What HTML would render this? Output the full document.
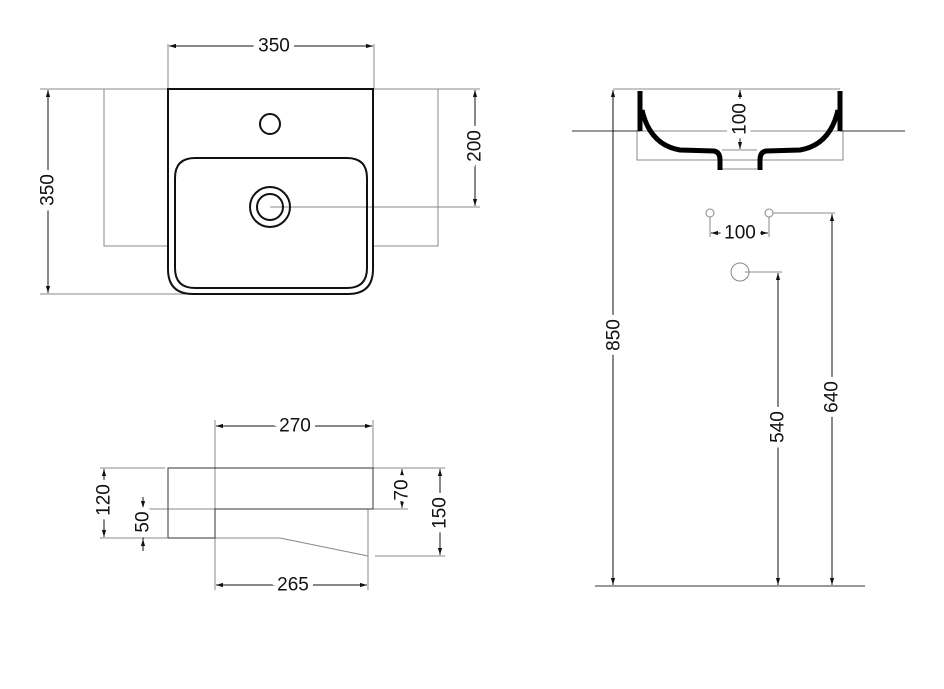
<!DOCTYPE html>
<html><head><meta charset="utf-8"><style>html,body{margin:0;padding:0;background:#fff}svg{display:block}
text{font-family:"Liberation Sans",sans-serif;font-size:19px;fill:#111;paint-order:stroke;stroke:#fff;stroke-width:10px;text-anchor:middle;dominant-baseline:central}</style></head>
<body>
<svg width="944" height="689" viewBox="0 0 944 689" xmlns="http://www.w3.org/2000/svg">
<defs><marker id="a" viewBox="0 0 10 10" refX="10" refY="5" markerWidth="7" markerHeight="7" orient="auto-start-reverse"><path d="M0,2 L10,5 L0,8z" fill="#111"/></marker></defs>
<g fill="none" stroke="#888" stroke-width="1">
<polyline points="168,246 104,246 104,89 168,89"/>
<polyline points="374,246 438,246 438,89 374,89"/>
<line x1="168" y1="44" x2="168" y2="89"/><line x1="374" y1="44" x2="374" y2="89"/>
<line x1="40" y1="89" x2="104" y2="89"/><line x1="438" y1="89" x2="480" y2="89"/>
<line x1="40" y1="294" x2="185" y2="294"/>
<line x1="270" y1="207" x2="480" y2="207"/>
<line x1="215" y1="420" x2="215" y2="590"/><line x1="373" y1="420" x2="373" y2="468"/>
<line x1="368" y1="509" x2="368" y2="590"/>
<line x1="100" y1="468" x2="165" y2="468"/><line x1="100" y1="538" x2="168" y2="538"/>
<line x1="135" y1="509" x2="215" y2="509"/>
<line x1="373" y1="468" x2="445" y2="468"/><line x1="373" y1="509" x2="408" y2="509"/>
<line x1="375" y1="556" x2="445" y2="556"/>
<line x1="215" y1="538" x2="280" y2="538"/><line x1="280" y1="538" x2="368" y2="556"/>
<rect x="637" y="131" width="206" height="29"/>
<line x1="613" y1="89" x2="840" y2="89"/>
<line x1="722" y1="150" x2="757" y2="150"/>
<line x1="722" y1="169" x2="757" y2="169"/>
<line x1="773" y1="213" x2="835" y2="213"/><line x1="745" y1="272" x2="782" y2="272"/>
<line x1="710" y1="217" x2="710" y2="237"/><line x1="769" y1="217" x2="769" y2="237"/>
<circle cx="710" cy="213" r="4"/><circle cx="769" cy="213" r="4"/>
<circle cx="740" cy="272" r="9"/>
</g>
<g fill="none" stroke="#333" stroke-width="1">
<line x1="572" y1="131" x2="640" y2="131"/><line x1="840" y1="131" x2="905" y2="131"/>
<line x1="595" y1="586" x2="865" y2="586"/>
<polyline points="168,538 168,468 373,468 373,509 215,509 215,538 168,538"/>
</g>
<g fill="none" stroke="#111" stroke-width="2">
<path d="M168,89 H373 V269 Q373,294 348,294 H193 Q168,294 168,269 Z"/>
<path d="M195,158 H347 Q367,158 367,178 V268 Q367,288 347,288 H195 Q175,288 175,268 V178 Q175,158 195,158 Z"/>
<circle cx="270" cy="124" r="10"/>
<circle cx="270" cy="207" r="20"/><circle cx="270" cy="207" r="13"/>
</g>
<g fill="none" stroke="#000" stroke-width="5">
<path d="M640,91 V131 M840,91 V131"/>
<path d="M642,110 Q650,145 680,150 L714,151 Q720,152 720,160 V170"/>
<path d="M838,110 Q830,145 800,150 L766,151 Q760,152 760,160 V170"/>
</g>
<g stroke="#111" stroke-width="1" fill="none" marker-start="url(#a)" marker-end="url(#a)">
<line x1="169" y1="46" x2="373" y2="46"/>
<line x1="48" y1="90" x2="48" y2="293"/>
<line x1="475" y1="90" x2="475" y2="206"/>
<line x1="216" y1="426" x2="372" y2="426"/>
<line x1="216" y1="585" x2="367" y2="585"/>
<line x1="104" y1="469" x2="104" y2="537"/>
<line x1="402" y1="469" x2="402" y2="508"/>
<line x1="440" y1="469" x2="440" y2="555"/>
<line x1="740" y1="90" x2="740" y2="149"/>
<line x1="711" y1="233" x2="768" y2="233"/>
<line x1="613" y1="90" x2="613" y2="585"/>
<line x1="778" y1="273" x2="778" y2="585"/>
<line x1="832" y1="214" x2="832" y2="585"/>
</g>
<g stroke="#111" stroke-width="1" fill="none">
<line x1="143" y1="497" x2="143" y2="508" marker-end="url(#a)"/>
<line x1="143" y1="551" x2="143" y2="539" marker-end="url(#a)"/>
<line x1="143" y1="508" x2="143" y2="539"/>
</g>
<text x="274" y="46">350</text>
<text x="295" y="426">270</text>
<text x="293" y="585">265</text>
<text x="740" y="233">100</text>
<text transform="translate(48,190) rotate(-90)">350</text>
<text transform="translate(475,146) rotate(-90)">200</text>
<text transform="translate(104,500) rotate(-90)">120</text>
<text transform="translate(143,522) rotate(-90)">50</text>
<text transform="translate(402,490) rotate(-90)">70</text>
<text transform="translate(440,513) rotate(-90)">150</text>
<text transform="translate(740,119) rotate(-90)">100</text>
<text transform="translate(614,335) rotate(-90)">850</text>
<text transform="translate(778,427) rotate(-90)">540</text>
<text transform="translate(832,397) rotate(-90)">640</text>
</svg>
</body></html>
